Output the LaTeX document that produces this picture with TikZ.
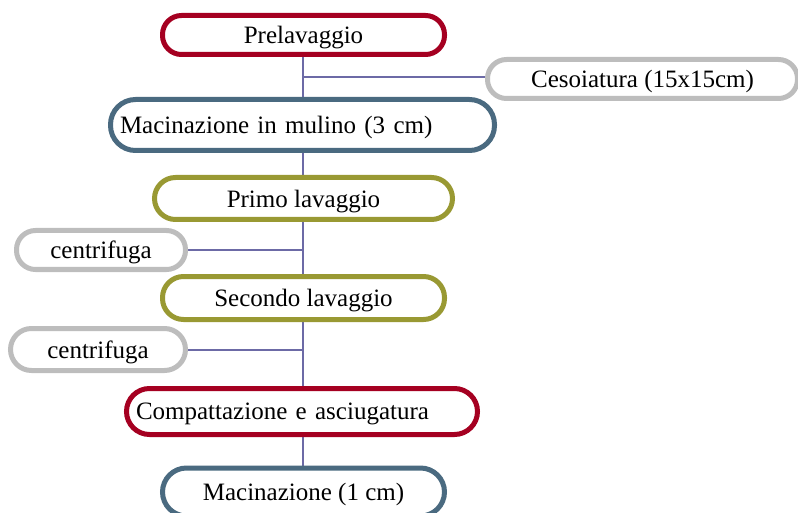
\documentclass[tikz,border=0pt]{standalone}
\usepackage{fontspec}
\setmainfont{Liberation Serif}
\definecolor{cred}{HTML}{A50021}
\definecolor{cblue}{HTML}{4A6A80}
\definecolor{colive}{HTML}{999933}
\definecolor{cgray}{HTML}{BDBDBD}
\definecolor{cline}{HTML}{6C6AA6}
\begin{document}
\begin{tikzpicture}[x=1pt,y=-1pt,
  box/.style={draw, line width=5pt, rounded corners=19pt, fill=white, inner sep=0pt,
    font=\fontsize{25}{30}\selectfont, text depth=0pt, minimum width=#1},
  conn/.style={draw=cline, line width=1.5pt}]
\useasboundingbox (0,0) rectangle (798,513);
\begin{scope}
\clip (0,0) rectangle (798,513);
% connectors first
\coordinate (s0) at (303,57);
\coordinate (sc) at (303,77);
\coordinate (s1) at (303,250);
\coordinate (s2) at (303,350);
\coordinate (s3) at (303,466);
\draw[conn] (s0) -- (s3);
\draw[conn] (sc) -- (485,77) coordinate (cw);
\draw[conn] (188,250) coordinate (c1e) -- (s1);
\draw[conn] (188,350) coordinate (c2e) -- (s2);
% boxes
\node[box=282pt, minimum height=39pt, draw=cred] (P) at (303.5,35) {Prelavaggio};
\node[box=310pt, minimum height=39pt, draw=cgray] (C) at (642.5,79) {Cesoiatura (15x15cm)};
\node[box=384pt, minimum height=51pt, draw=cblue, inner xsep=9.5pt, text width=365pt, align=left, rounded corners=25pt] (M1) at (302.5,125) {Macinazione in mulino (3 cm)};
\node[box=298pt, minimum height=42pt, draw=colive, rounded corners=21pt] (L1) at (303.5,198.5) {Primo lavaggio};
\node[box=169pt, minimum height=39pt, draw=cgray] (F1) at (101,250) {centrifuga};
\node[box=282pt, minimum height=43pt, draw=colive, rounded corners=21pt] (L2) at (303.5,298) {Secondo lavaggio};
\node[box=175pt, minimum height=42pt, draw=cgray, rounded corners=21pt] (F2) at (98,349.5) {centrifuga};
\node[box=351pt, minimum height=46pt, draw=cred, inner xsep=9.5pt, text width=332pt, align=left, rounded corners=23pt] (K) at (302,411.5) {Compattazione e asciugatura};
\node[box=282pt, minimum height=48pt, draw=cblue, rounded corners=24pt] (M2) at (303.5,492) {Macinazione (1 cm)};
\end{scope}
\end{tikzpicture}
\end{document}
